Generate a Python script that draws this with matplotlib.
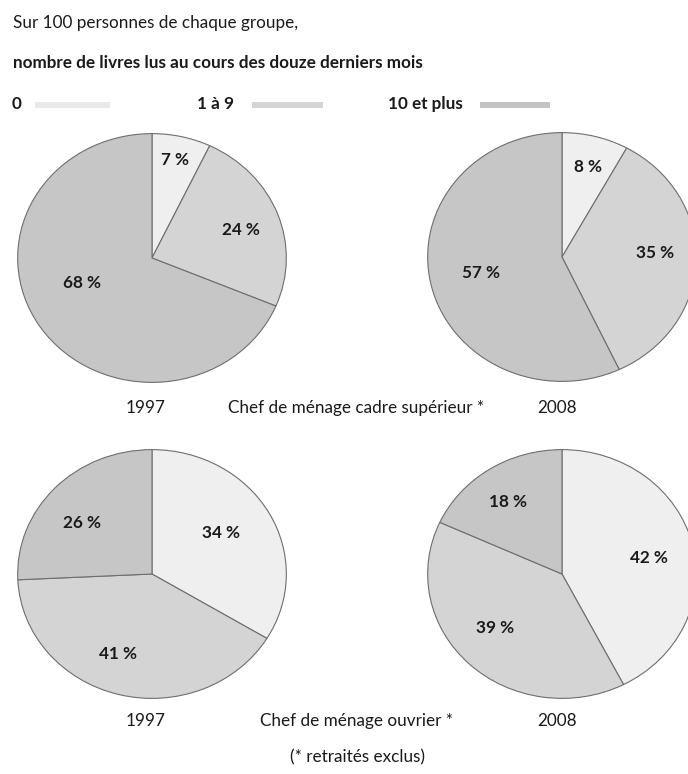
import numpy as np
import matplotlib
matplotlib.use("Agg")
import matplotlib.pyplot as plt
from matplotlib.patches import Rectangle

plt.rcParams['font.family'] = ['Lato', 'DejaVu Sans']

# ---- data ----
categories = ["0", "1 à 9", "10 et plus"]
cadre_1997 = [7, 24, 68]
cadre_2008 = [8, 35, 57]
ouvrier_1997 = [34, 41, 26]
ouvrier_2008 = [42, 39, 18]
years = ["1997", "2008"]
groups = ["Chef de ménage cadre supérieur *", "Chef de ménage ouvrier *"]
title1 = "Sur 100 personnes de chaque groupe,"
title2 = "nombre de livres lus au cours des douze derniers mois"
footnote = "(* retraités exclus)"

# ---- style ----
W, H = 688, 774
COLORS = ["#efefef", "#d4d4d4", "#c6c6c6"]
SWATCH = ["#e9e9e9", "#d4d4d4", "#c3c3c3"]
EDGE = "#6e6e6e"
TXT = "#1a1a1a"
FS = 12.3
# label placement per wedge: (radius fraction, angle offset in degrees)
LABEL_POS = {
    "c97": [(0.81, 0.6), (0.70, -2.2), (0.555, -12.6)],
    "c08": [(0.745, -0.6), (0.69, 4.5), (0.62, -0.6)],
    "o97": [(0.61, 3.0), (0.69, -7.0), (0.66, 5.4)],
    "o08": [(0.66, -2.4), (0.66, -5.4), (0.70, 2.0)],
}

fig = plt.figure(figsize=(W / 100, H / 100), dpi=100)
fig.patch.set_facecolor("white")


def px_axes(x0, y0, x1, y1):
    return fig.add_axes([x0 / W, 1 - y1 / H, (x1 - x0) / W, (y1 - y0) / H])


def draw_pie(ax, vals, key):
    wedges, _ = ax.pie(vals, colors=COLORS, startangle=90, counterclock=False,
                       radius=1, wedgeprops=dict(edgecolor=EDGE, linewidth=0.8))
    ax.set_aspect('auto')
    ax.set_xlim(-1.005, 1.005)
    ax.set_ylim(-1.005, 1.005)
    ax.axis('off')
    for w, v, (r, dth) in zip(wedges, vals, LABEL_POS[key]):
        ang = np.deg2rad((w.theta1 + w.theta2) / 2 + dth)
        ax.text(r * np.cos(ang), r * np.sin(ang), f"{v} %", ha='center', va='center',
                fontsize=FS, fontweight='bold', color=TXT)


rx, ry = 135, 125
centers = {"c97": (152, 258), "c08": (562, 257), "o97": (152, 574), "o08": (562, 574)}
datasets = {"c97": cadre_1997, "c08": cadre_2008, "o97": ouvrier_1997, "o08": ouvrier_2008}
for key, (cx, cy) in centers.items():
    ax = px_axes(cx - rx, cy - ry, cx + rx, cy + ry)
    draw_pie(ax, datasets[key], key)

# ---- texts ----
def ftext(x, y, s, **kw):
    fig.text(x / W, 1 - y / H, s, **kw)

ftext(13, 23, title1, fontsize=FS, color=TXT, va='center', ha='left')
ftext(13, 63, title2, fontsize=FS, fontweight='bold', color=TXT, va='center', ha='left')

# legend
leg_text_x = [12, 197, 388]
leg_sw_x = [(35, 110), (252, 323), (480, 550)]
for cat, tx, (s0, s1), col in zip(categories, leg_text_x, leg_sw_x, SWATCH):
    ftext(tx, 104, cat, fontsize=FS, fontweight='bold', color=TXT, va='center', ha='left')
    fig.patches.append(Rectangle((s0 / W, 1 - 108 / H), (s1 - s0) / W, 6 / H,
                                 transform=fig.transFigure, facecolor=col, edgecolor='none'))

for gy, g in zip([408, 721], groups):
    ftext(146, gy, years[0], fontsize=FS, color=TXT, va='center', ha='center')
    ftext(356, gy, g, fontsize=FS, color=TXT, va='center', ha='center')
    ftext(557, gy, years[1], fontsize=FS, color=TXT, va='center', ha='center')

ftext(357, 757, footnote, fontsize=FS, color=TXT, va='center', ha='center')

fig.savefig("out.png", dpi=100, facecolor="white")
